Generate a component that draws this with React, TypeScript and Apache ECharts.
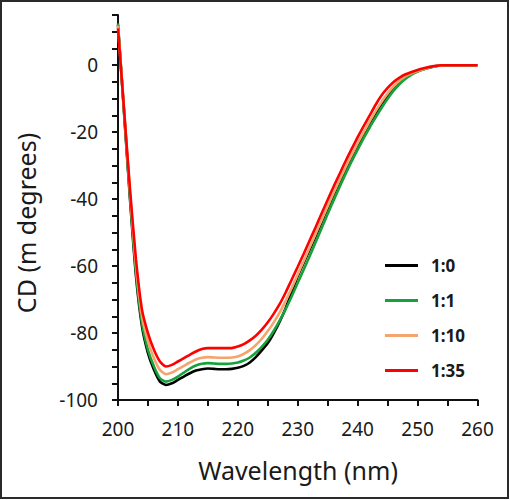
import React, { useEffect, useRef } from "react";
import * as echarts from "echarts";

const wavelengths: number[] = [];
for (let w = 200; w <= 260; w++) wavelengths.push(w);

const seriesNames = ["1:0", "1:1", "1:10", "1:35"];
const seriesColors = ["#000000", "#16a23a", "#f4a46c", "#ff0000"];

const cd_1_0 = [
  12, -14, -40, -63, -78, -86, -91, -94.5, -95.5, -95, -94, -93, -92, -91.2, -90.8, -90.6, -90.7, -90.8, -90.8, -90.7,
  -90.4, -89.8, -88.8, -87.2, -85.2, -83, -80, -76.5, -72.5, -67.8, -63, -59, -55, -51, -46.8, -42.7, -38.7, -34.8, -31, -27.3,
  -23.8, -20.5, -17.3, -14.3, -11.5, -9, -6.8, -5, -3.6, -2.6, -1.8, -1.2, -0.7, -0.3, -0.1, 0, 0, 0, 0, 0, 0,
];
const cd_1_1 = [
  12.5, -13.5, -39, -62, -77, -85, -90, -93.5, -94.5, -94, -93, -91.8, -90.6, -89.7, -89.2, -89, -89.1, -89.2, -89.2, -89.1,
  -88.8, -88.2, -87.3, -85.9, -84.1, -82, -79.3, -76.2, -72.8, -69, -65, -61, -57, -52.8, -48.6, -44.4, -40.3, -36.3, -32.4, -28.7,
  -25.2, -21.8, -18.6, -15.6, -12.7, -10, -7.6, -5.6, -4, -2.8, -1.9, -1.2, -0.7, -0.3, -0.1, 0, 0, 0, 0, 0, 0,
];
const cd_1_10 = [
  11.8, -13, -38, -60, -75, -82.5, -87.5, -91, -92.3, -91.8, -90.8, -89.8, -88.8, -87.9, -87.4, -87.2, -87.3, -87.4, -87.4, -87.3,
  -87, -86.2, -85.1, -83.6, -81.7, -79.4, -76.8, -73.8, -70.3, -66.5, -62.5, -58.5, -54.4, -50.3, -46.2, -42.1, -38.1, -34.2, -30.4, -26.8,
  -23.3, -20, -16.8, -13.7, -10.9, -8.4, -6.3, -4.6, -3.3, -2.4, -1.7, -1.1, -0.6, -0.3, -0.1, 0, 0, 0, 0, 0, 0,
];
const cd_1_35 = [
  11, -13, -37, -58, -73, -80, -85, -88.5, -90, -89.5, -88.5, -87.5, -86.5, -85.5, -84.8, -84.5, -84.5, -84.5, -84.5, -84.5,
  -84, -83.3, -82.2, -80.8, -79, -76.8, -74.2, -71.3, -67.8, -64, -60.2, -56.3, -52.3, -48.3, -44.2, -40.2, -36.2, -32.4, -28.6, -25,
  -21.5, -18.2, -15, -11.8, -9, -6.8, -5, -3.7, -2.7, -2, -1.4, -0.9, -0.5, -0.2, 0, 0, 0, 0, 0, 0, 0,
];
const allSeries = [cd_1_0, cd_1_1, cd_1_10, cd_1_35];

const xTickLabels = [200, 210, 220, 230, 240, 250, 260];
const yTickLabels = [-100, -80, -60, -40, -20, 0];

const FONT = "Noto Sans";

export default function App() {
  const ref = useRef<HTMLDivElement>(null);
  useEffect(() => {
    document.body.style.margin = "0";
    const chart = echarts.init(ref.current!, null, { renderer: "svg" });
    chart.setOption({
      animation: false,
      backgroundColor: "#ffffff",
      textStyle: { fontFamily: FONT },
      grid: { left: 118, right: 32.5, top: 15, bottom: 100, containLabel: false },
      xAxis: {
        type: "value",
        min: 200,
        max: 260,
        interval: 5,
        axisLine: { show: true, onZero: false, lineStyle: { color: "#111", width: 2 } },
        axisTick: { show: true, length: 6, lineStyle: { color: "#111", width: 2 } },
        splitLine: { show: false },
        axisLabel: {
          margin: 19,
          fontSize: 19,
          color: "#1a1a1a",
          fontFamily: FONT,
          formatter: (v: number) => (xTickLabels.includes(v) ? String(v) : ""),
        },
      },
      yAxis: {
        type: "value",
        min: -100,
        max: 15,
        interval: 5,
        axisLine: { show: true, onZero: false, lineStyle: { color: "#111", width: 2 } },
        axisTick: { show: true, length: 6, lineStyle: { color: "#111", width: 2 } },
        splitLine: { show: false },
        axisLabel: {
          margin: 20,
          fontSize: 19,
          color: "#1a1a1a",
          fontFamily: FONT,
          formatter: (v: number) => (yTickLabels.includes(v) ? String(v) : ""),
        },
      },
      legend: {
        orient: "vertical",
        left: 380,
        top: 252,
        itemWidth: 33,
        itemHeight: 3,
        itemGap: 18,
        icon: "rect",
        textStyle: { fontSize: 17, fontWeight: "bold", color: "#1a1a1a", fontFamily: FONT, padding: [0, 0, 0, 8] },
        data: seriesNames,
      },
      graphic: [
        {
          type: "rect",
          shape: { x: 1, y: 1, width: 507, height: 497 },
          style: { fill: "none", stroke: "#2a2a2a", lineWidth: 2 },
          silent: true,
        },
        {
          type: "text",
          x: 298,
          y: 470,
          style: {
            text: "Wavelength (nm)",
            fontSize: 25,
            fontFamily: FONT,
            fill: "#1a1a1a",
            align: "center",
            verticalAlign: "middle",
          },
        },
        {
          type: "text",
          x: 26,
          y: 223,
          rotation: Math.PI / 2,
          style: {
            text: "CD (m degrees)",
            fontSize: 25,
            fontFamily: FONT,
            fill: "#1a1a1a",
            align: "center",
            verticalAlign: "middle",
          },
        },
      ],
      series: allSeries.map((vals, i) => ({
        name: seriesNames[i],
        type: "line",
        data: wavelengths.map((w, j) => [w, vals[j]]),
        showSymbol: false,
        symbol: "none",
        smooth: 0.2,
        lineStyle: { color: seriesColors[i], width: 2.6 },
        itemStyle: { color: seriesColors[i] },
      })),
    });
    return () => chart.dispose();
  }, []);
  return <div ref={ref} style={{ width: 510, height: 500 }} />;
}
